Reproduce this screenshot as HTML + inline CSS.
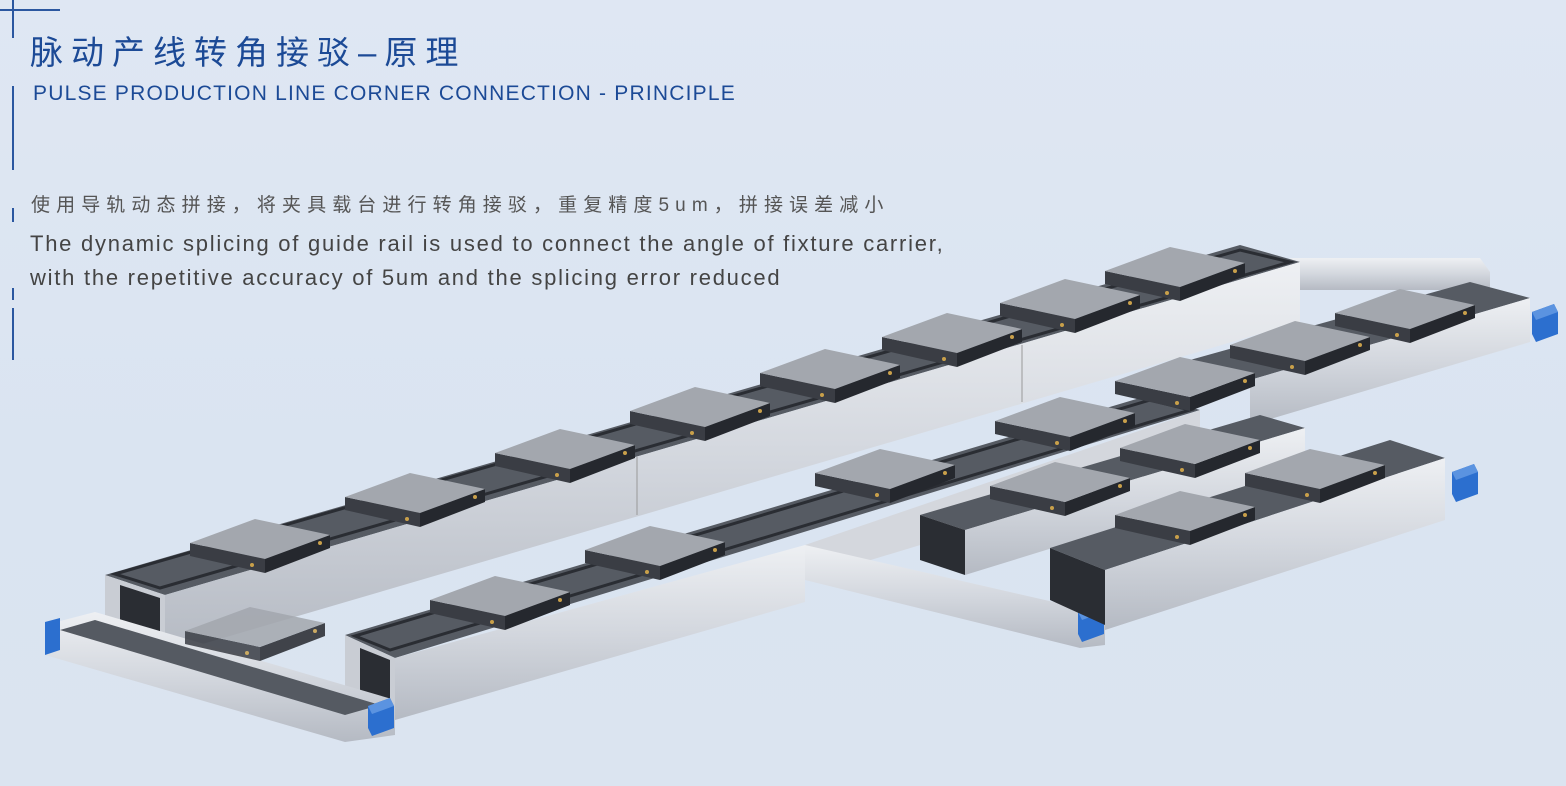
<!DOCTYPE html>
<html><head><meta charset="utf-8"><style>
html,body{margin:0;padding:0}
body{width:1566px;height:786px;overflow:hidden;background:linear-gradient(180deg,#dfe7f3 0%,#dae4f1 60%,#dbe4f0 100%);position:relative;font-family:"Liberation Sans","Noto Sans CJK SC",sans-serif}
.t{position:absolute;white-space:nowrap}
.v{position:absolute;left:12px;width:2px;background:#2b57a0}
</style></head><body>
<div style="position:absolute;left:0;top:9px;width:60px;height:1.5px;background:#2b57a0"></div>
<div class="v" style="top:0;height:38px"></div>
<div class="v" style="top:86px;height:84px"></div>
<div class="v" style="top:208px;height:14px"></div>
<div class="v" style="top:288px;height:12px"></div>
<div class="v" style="top:308px;height:52px"></div>
<div class="t" style="left:30px;top:26px;font-size:33px;color:#1c4a96;letter-spacing:8px">脉动产线转角接驳–原理</div>
<div class="t" style="left:33px;top:82px;font-size:21px;color:#1c4a96;letter-spacing:1.2px">PULSE PRODUCTION LINE CORNER CONNECTION - PRINCIPLE</div>
<div class="t" style="left:31px;top:190px;font-size:19px;color:#555;letter-spacing:6.1px">使用导轨动态拼接，将夹具载台进行转角接驳，重复精度5um，拼接误差减小</div>
<div class="t" style="left:30px;top:231px;font-size:22px;color:#444;letter-spacing:1.75px">The dynamic splicing of guide rail is used to connect the angle of fixture carrier,</div>
<div class="t" style="left:30px;top:265px;font-size:22px;color:#444;letter-spacing:1.75px">with the repetitive accuracy of 5um and the splicing error reduced</div>
<svg width="1566" height="786" style="position:absolute;left:0;top:0">
<defs>
<linearGradient id="sil" x1="0" y1="0" x2="0" y2="1"><stop offset="0" stop-color="#eef0f3"/><stop offset="0.5" stop-color="#d3d7de"/><stop offset="1" stop-color="#b5bac3"/></linearGradient>
<g id="pl">
<polygon points="-70,3 5,19 5,33 -70,16" fill="#3a3d44"/>
<polygon points="5,19 70,-5 70,8 5,33" fill="#25282e"/>
<polygon points="-70,3 -5,-21 70,-5 5,19" fill="#a3a7ae"/>
<circle cx="-8" cy="25" r="2" fill="#c9a04a"/><circle cx="60" cy="3" r="2" fill="#c9a04a"/>
</g>
<g id="cap"><polygon points="0,0 22,-8 26,0 26,22 4,30 0,22" fill="#2c6fcf"/><polygon points="0,0 22,-8 26,0 4,8" fill="#5b93e0"/></g>
</defs>
<polygon points="1290,258 1480,258 1490,272 1490,290 1300,290" fill="url(#sil)"/>
<polygon points="1190,360 1470,282 1530,298 1250,380" fill="#565b63"/>
<polygon points="1250,380 1530,298 1530,342 1250,425" fill="url(#sil)"/>
<use href="#cap" x="1532" y="312"/>
<polygon points="105,575 1240,245 1300,262 165,595" fill="#565b63"/>
<polygon points="115,574 1240,250 1290,262 160,588" fill="none" stroke="#2a2d33" stroke-width="3"/>
<polygon points="165,595 1300,262 1300,322 165,655" fill="url(#sil)"/>
<polygon points="105,575 165,595 165,655 105,630" fill="#c9cdd4"/>
<polygon points="120,585 160,598 160,650 120,630" fill="#2a2d33"/>
<line x1="637" y1="457" x2="637" y2="515" stroke="#999" stroke-width="1"/>
<line x1="1022" y1="345" x2="1022" y2="402" stroke="#999" stroke-width="1"/>
<polygon points="345,635 1150,395 1200,410 395,658" fill="#565b63"/>
<polygon points="355,636 1150,400 1190,410 390,650" fill="none" stroke="#2a2d33" stroke-width="3"/>
<polygon points="395,658 805,545 805,602 395,720" fill="url(#sil)"/>
<polygon points="805,545 1200,410 1200,460 805,580" fill="#d4d7dd"/>
<polygon points="345,635 395,658 395,720 345,695" fill="#c9cdd4"/>
<polygon points="360,648 390,660 390,712 360,696" fill="#2a2d33"/>
<polygon points="805,545 1080,608 1105,612 1105,645 1080,648 805,580" fill="url(#sil)"/>
<use href="#cap" x="1078" y="612"/>
<polygon points="920,515 1260,415 1305,428 965,530" fill="#565b63"/>
<polygon points="965,530 1305,428 1305,470 965,575" fill="url(#sil)"/>
<polygon points="920,515 965,530 965,575 920,560" fill="#2a2d33"/>
<polygon points="1050,548 1390,440 1445,458 1105,570" fill="#565b63"/>
<polygon points="1105,570 1445,458 1445,520 1105,630" fill="url(#sil)"/>
<polygon points="1050,548 1105,570 1105,625 1050,600" fill="#2a2d33"/>
<use href="#cap" x="1452" y="472"/>
<polygon points="45,625 95,612 395,700 395,735 345,742 45,655" fill="url(#sil)"/>
<polygon points="60,630 95,620 380,705 345,715" fill="#555a62"/>
<use href="#cap" x="368" y="706"/>
<polygon points="45,622 60,618 60,650 45,655" fill="#2c6fcf"/>
<use href="#pl" x="260" y="540"/><use href="#pl" x="415" y="494"/><use href="#pl" x="565" y="450"/>
<use href="#pl" x="700" y="408"/><use href="#pl" x="830" y="370"/><use href="#pl" x="952" y="334"/>
<use href="#pl" x="1070" y="300"/><use href="#pl" x="1175" y="268"/>
<use href="#pl" x="500" y="597"/><use href="#pl" x="655" y="547"/><use href="#pl" x="885" y="470"/>
<use href="#pl" x="1065" y="418"/><use href="#pl" x="1185" y="378"/><use href="#pl" x="1300" y="342"/><use href="#pl" x="1405" y="310"/>
<use href="#pl" x="1060" y="483"/><use href="#pl" x="1190" y="445"/>
<use href="#pl" x="1185" y="512"/><use href="#pl" x="1315" y="470"/>
<use href="#pl" x="255" y="628" opacity="0.85"/>
</svg>
</body></html>
